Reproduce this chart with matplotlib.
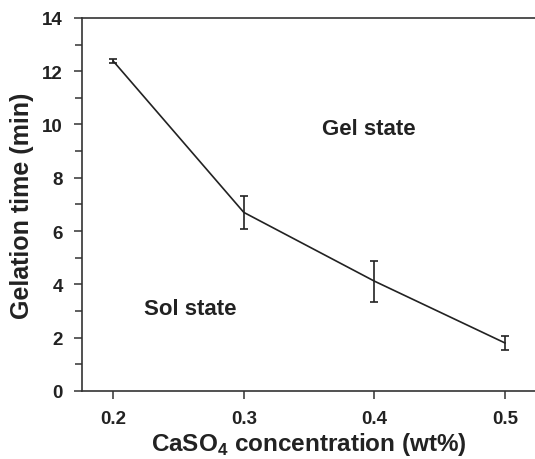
import matplotlib
matplotlib.use('Agg')
import matplotlib.pyplot as plt
from matplotlib.ticker import MultipleLocator

plt.rcParams['font.family'] = ['Liberation Sans', 'DejaVu Sans']
plt.rcParams['font.weight'] = 'bold'
plt.rcParams['mathtext.fontset'] = 'custom'
plt.rcParams['mathtext.rm'] = 'Liberation Sans:bold'
plt.rcParams['mathtext.bf'] = 'Liberation Sans:bold'

# 数据
conc = [0.2, 0.3, 0.4, 0.5]
gel_time = [12.38, 6.7, 4.12, 1.8]
gel_err = [0.07, 0.63, 0.77, 0.27]

ink = '#222222'

fig = plt.figure(figsize=(5.35, 4.6), dpi=100)
ax = fig.add_axes([0.153, 0.148, 0.847, 0.811])

ax.errorbar(conc, gel_time, yerr=gel_err, color=ink, lw=1.2,
            elinewidth=1.2, capsize=2.6, capthick=1.2)

ax.set_xlim(0.176, 0.523)
ax.set_ylim(0, 14)
ax.xaxis.set_major_locator(MultipleLocator(0.1))
ax.yaxis.set_major_locator(MultipleLocator(2))
ax.yaxis.set_minor_locator(MultipleLocator(1))

ax.spines['right'].set_visible(False)
for s in ['left', 'bottom', 'top']:
    ax.spines[s].set_linewidth(1.2)
    ax.spines[s].set_color('#333333')

ax.tick_params(which='both', direction='out', length=6, width=1.1,
               color='#333333', labelsize=13.5, labelcolor=ink)
ax.tick_params(axis='x', pad=8)
ax.tick_params(axis='y', pad=7.5)
ax.tick_params(axis='y', which='minor', length=5)
for lab in ax.get_xticklabels() + ax.get_yticklabels():
    lab.set_fontweight('bold')

ax.set_xlabel(r'CaSO$_\mathbf{4}$ concentration (wt%)', fontsize=17.5,
              fontweight='bold', color=ink, labelpad=2)
ax.set_ylabel('Gelation time (min)', fontsize=18, fontweight='bold',
              color=ink, labelpad=6)

ax.text(0.396, 9.85, 'Gel state', fontsize=16, fontweight='bold',
        color=ink, ha='center', va='center')
ax.text(0.259, 3.11, 'Sol state', fontsize=16, fontweight='bold',
        color=ink, ha='center', va='center')

fig.savefig('out.png', dpi=100)
